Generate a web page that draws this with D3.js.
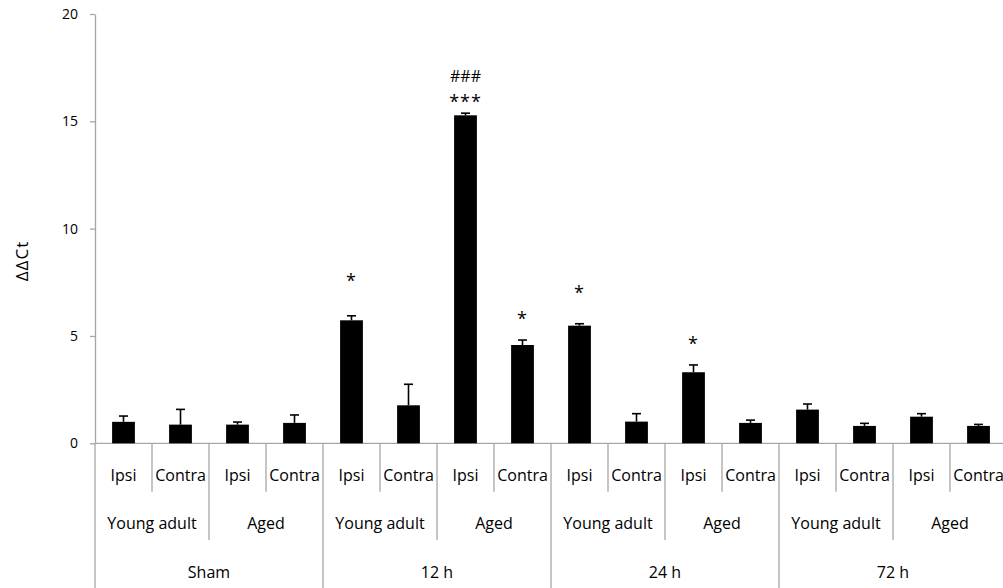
<!DOCTYPE html>
<html>
<head>
<meta charset="utf-8">
<script src="https://cdn.jsdelivr.net/npm/d3@7"></script>
<style>
  body { margin: 0; background: #fff; }
  text { font-family: "Open Sans", "Noto Sans", sans-serif; fill: #000; }
</style>
</head>
<body>
<script>
"use strict";
// group levels of the category axis
const timepoints = ["Sham", "12 h", "24 h", "72 h"];
const ages = ["Young adult", "Aged"];
const sides = ["Ipsi", "Contra"];

// bar heights (ΔΔCt) and error bars, in axis order
const means = [1.00, 0.87, 0.87, 0.95,
               5.73, 1.77, 15.28, 4.58,
               5.48, 1.01, 3.31, 0.95,
               1.57, 0.81, 1.24, 0.81];
const errors = [0.27, 0.71, 0.12, 0.37,
                0.21, 0.98, 0.10, 0.23,
                0.09, 0.37, 0.34, 0.13,
                0.26, 0.12, 0.14, 0.07];

// significance marks and the ΔΔCt level they sit at
const stars = ["", "", "", "", "*", "", "***", "*", "*", "", "*", "", "", "", "", ""];
const starLevels = [0, 0, 0, 0, 7.76, 0, 16.08, 5.98, 7.19, 0, 4.81, 0, 0, 0, 0, 0];
const hashes = ["", "", "", "", "", "", "###", "", "", "", "", "", "", "", "", ""];
const hashLevels = [0, 0, 0, 0, 0, 0, 17.11, 0, 0, 0, 0, 0, 0, 0, 0, 0];

const yTicks = [0, 5, 10, 15, 20];

const width = 1003, height = 588;
const axisColor = "#a6a6a6";

const svg = d3.select("body").append("svg")
    .attr("width", width)
    .attr("height", height);

const x = d3.scaleBand()
    .domain(d3.range(means.length))
    .range([95, 1007])
    .paddingInner(0.6)
    .paddingOuter(0.3);
const step = x.step();

const y = d3.scaleLinear()
    .domain([0, 20])
    .range([443.3, 14]);

// y axis
const yAxis = svg.append("g")
    .attr("transform", "translate(95,0)")
    .call(d3.axisLeft(y).tickValues(yTicks).tickSize(5).tickSizeOuter(0).tickPadding(12));
yAxis.select(".domain").attr("stroke", axisColor).attr("stroke-width", 1.3);
yAxis.selectAll(".tick line").attr("stroke", axisColor).attr("stroke-width", 1.3);
yAxis.selectAll(".tick text")
    .style("font-family", '"Open Sans", sans-serif')
    .style("font-size", "14px")
    .attr("fill", "#000");

// axis line runs on through the label levels
svg.append("line")
    .attr("x1", 95).attr("x2", 95)
    .attr("y1", y(0)).attr("y2", height)
    .attr("stroke", axisColor).attr("stroke-width", 1.3);

svg.append("text")
    .attr("transform", "translate(28,261) rotate(-90)")
    .attr("text-anchor", "middle")
    .style("font-size", "17px")
    .style("letter-spacing", "1px")
    .text("ΔΔCt");

// baseline
svg.append("line")
    .attr("x1", 95).attr("x2", width)
    .attr("y1", y(0)).attr("y2", y(0))
    .attr("stroke", axisColor).attr("stroke-width", 1.3);

// category axis: three levels
const nSide = sides.length, nAge = ages.length * nSide;

const sep = svg.append("g").attr("stroke", axisColor).attr("stroke-width", 1.3);
d3.range(1, means.length + 1).forEach(i => {
  let bottom = 491.7;
  if (i % nAge === 0) bottom = height;
  else if (i % nSide === 0) bottom = 540;
  const xx = 95 + i * step;
  sep.append("line")
      .attr("x1", xx).attr("x2", xx)
      .attr("y1", y(0)).attr("y2", bottom);
});

svg.append("g").selectAll("text")
  .data(d3.range(means.length))
  .join("text")
    .attr("x", i => x(i) + x.bandwidth() / 2)
    .attr("y", 481)
    .attr("text-anchor", "middle")
    .style("font-size", "16px")
    .text(i => sides[i % nSide]);

svg.append("g").selectAll("text")
  .data(d3.range(timepoints.length * ages.length))
  .join("text")
    .attr("x", j => 95 + (j + 0.5) * nSide * step)
    .attr("y", 529)
    .attr("text-anchor", "middle")
    .style("font-size", "16px")
    .text(j => ages[j % ages.length]);

svg.append("g").selectAll("text")
  .data(timepoints)
  .join("text")
    .attr("x", (d, k) => 95 + (k + 0.5) * nAge * step)
    .attr("y", 578)
    .attr("text-anchor", "middle")
    .style("font-size", "16px")
    .text(d => d);

// bars
svg.append("g").selectAll("rect")
  .data(means)
  .join("rect")
    .attr("x", (d, i) => x(i))
    .attr("width", x.bandwidth())
    .attr("y", d => y(d))
    .attr("height", d => y(0) - y(d))
    .attr("fill", "#000");

// error bars (upper only)
const err = svg.append("g").attr("stroke", "#000").attr("stroke-width", 1.6);
means.forEach((m, i) => {
  const cx = x(i) + x.bandwidth() / 2;
  err.append("line")
      .attr("x1", cx).attr("x2", cx)
      .attr("y1", y(m)).attr("y2", y(m + errors[i]));
  err.append("line")
      .attr("x1", cx - 4.5).attr("x2", cx + 4.5)
      .attr("y1", y(m + errors[i])).attr("y2", y(m + errors[i]));
});

// significance marks
svg.append("g").selectAll("text")
  .data(d3.range(means.length).filter(i => stars[i]))
  .join("text")
    .attr("x", i => x(i) + x.bandwidth() / 2)
    .attr("y", i => y(starLevels[i]) + 10)
    .attr("text-anchor", "middle")
    .style("font-size", "18px")
    .style("letter-spacing", "1px")
    .text(i => stars[i]);

svg.append("g").selectAll("text")
  .data(d3.range(means.length).filter(i => hashes[i]))
  .join("text")
    .attr("x", i => x(i) + x.bandwidth() / 2)
    .attr("y", i => y(hashLevels[i]) + 6)
    .attr("text-anchor", "middle")
    .style("font-size", "16px")
    .text(i => hashes[i]);
</script>
</body>
</html>
